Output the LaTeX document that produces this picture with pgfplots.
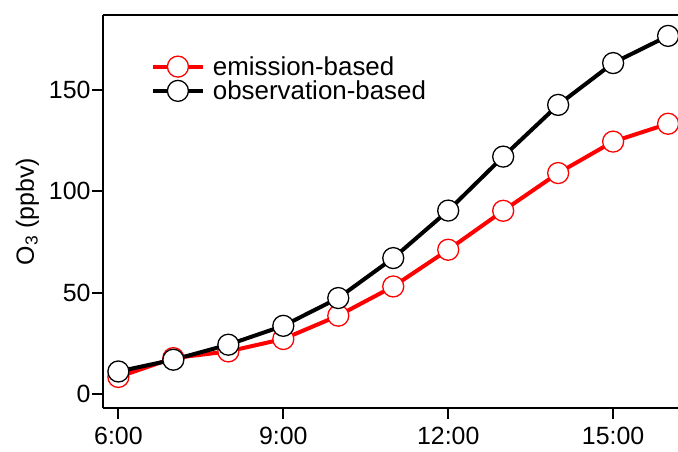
\documentclass[border=0pt]{standalone}
\usepackage{pgfplots}
\pgfplotsset{compat=1.18}
\usepackage{fontspec}
\setmainfont{Liberation Sans}

\pgfplotstableread{
hour emis obs
6  8.4   11.1
7  17.7  16.9
8  21.0  24.3
9  27.1  33.6
10 38.6  47.3
11 53.0  67.0
12 71.1  90.4
13 90.3  117.0
14 108.9 142.5
15 124.4 163.1
16 133.2 176.5
}\ozone

\begin{document}
\begin{tikzpicture}
\useasboundingbox (-103bp,-44bp) rectangle (575bp,408bp);
\begin{axis}[
  at={(0,0)}, anchor=south west,
  scale only axis,
  width=575bp, height=393bp,
  xmin=5.72, xmax=16.18,
  ymin=-6.9, ymax=186.8,
  axis y line*=left,
  axis line style={line width=2bp},
  xtick={6,9,12,15},
  xticklabels={6:00,9:00,12:00,15:00},
  ytick={0,50,100,150},
  xtick pos=lower, ytick pos=left,
  tick align=outside,
  major tick length=11bp,
  tick style={line width=2bp, black},
  /pgf/number format/assume math mode=true,
  ticklabel style={font=\fontsize{25}{29}\selectfont},
  xticklabel style={yshift=-5bp},
  yticklabel style={xshift=2bp},
  ylabel={O\textsubscript{3} (ppbv)},
  ylabel style={font=\fontsize{25}{29}\selectfont, yshift=3bp},
  legend style={
    at={(rel axis cs:0.083,0.90)}, anchor=north west,
    draw=none, fill=none,
    font=\fontsize{26}{30}\selectfont,
    inner xsep=0pt, inner ysep=0pt,
    row sep=0bp,
    /tikz/every odd column/.append style={column sep=6bp},
  },
  legend cell align=left,
  legend image code/.code={
    \draw[#1, mark repeat=2, mark phase=2]
      plot coordinates {(0bp,0bp) (25bp,0bp) (50bp,0bp)};
  },
  clip=false,
]
\addplot[red, line width=4bp, mark=*, mark size=10.5bp,
  mark options={fill=white, draw=red, line width=1.3bp}]
  table[x=hour, y=emis] {\ozone};
\addplot[black, line width=4bp, mark=*, mark size=10.5bp,
  mark options={fill=white, draw=black, line width=1.3bp}]
  table[x=hour, y=obs] {\ozone};
\legend{emission-based, observation-based}
\end{axis}
\end{tikzpicture}
\end{document}
